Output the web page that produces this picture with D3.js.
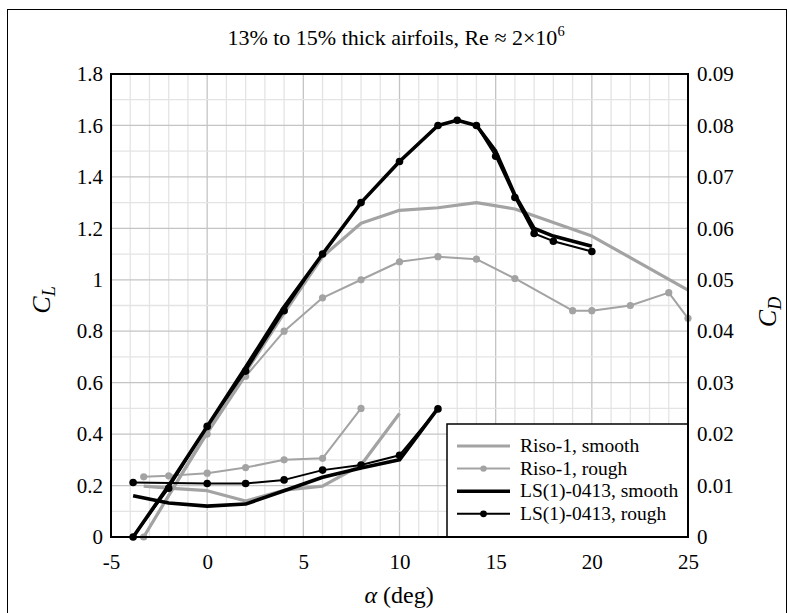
<!DOCTYPE html>
<html>
<head>
<meta charset="utf-8">
<script src="https://cdn.jsdelivr.net/npm/d3@7"></script>
<style>
  html, body { margin: 0; padding: 0; background: #fff; }
  svg { display: block; }
  svg text { font-family: "Liberation Serif", "DejaVu Serif", serif; }
</style>
</head>
<body>
<svg id="chart" width="789" height="613"></svg>
<script>
// Angle-of-attack ticks and axis tick labels
const xTicks = [-5, 0, 5, 10, 15, 20, 25];
const clTicks = [0, 0.2, 0.4, 0.6, 0.8, 1, 1.2, 1.4, 1.6, 1.8];
const cdTicks = [0, 0.01, 0.02, 0.03, 0.04, 0.05, 0.06, 0.07, 0.08, 0.09];

// Riso-1, smooth
const risoSmoothAlphaCL = [-3.3, 0, 2, 4, 6, 8, 10, 12, 14, 16, 20, 25];
const risoSmoothCL      = [0, 0.41, 0.64, 0.87, 1.09, 1.22, 1.27, 1.28, 1.30, 1.275, 1.17, 0.96];
const risoSmoothAlphaCD = [-3.3, -2, 0, 2, 4, 6, 8, 10];
const risoSmoothCD      = [0.0099, 0.0095, 0.0090, 0.0070, 0.0091, 0.0099, 0.0140, 0.0240];

// Riso-1, rough
const risoRoughAlphaCL = [-3.3, 0, 2, 4, 6, 8, 10, 12, 14, 16, 19, 20, 22, 24, 25];
const risoRoughCL      = [0, 0.40, 0.625, 0.80, 0.93, 1.00, 1.07, 1.09, 1.08, 1.005, 0.88, 0.88, 0.90, 0.95, 0.85];
const risoRoughAlphaCD = [-3.3, -2, 0, 2, 4, 6, 8];
const risoRoughCD      = [0.0117, 0.0119, 0.0124, 0.0135, 0.0150, 0.0153, 0.0250];

// LS(1)-0413, smooth
const lsSmoothAlphaCL = [-3.85, -2, 0, 2, 4, 6, 8, 10, 12, 13, 14, 15, 16, 17, 18, 20];
const lsSmoothCL      = [0, 0.20, 0.43, 0.66, 0.895, 1.10, 1.30, 1.46, 1.60, 1.62, 1.60, 1.50, 1.33, 1.20, 1.17, 1.13];
const lsSmoothAlphaCD = [-3.85, -2, 0, 2, 4, 6, 8, 10, 12];
const lsSmoothCD      = [0.0080, 0.0066, 0.0060, 0.0064, 0.0090, 0.0116, 0.0134, 0.0150, 0.0250];

// LS(1)-0413, rough
const lsRoughAlphaCL = [-3.85, -2, 0, 2, 4, 6, 8, 10, 12, 13, 14, 15, 16, 17, 18, 20];
const lsRoughCL      = [0, 0.19, 0.43, 0.645, 0.88, 1.10, 1.30, 1.46, 1.60, 1.62, 1.60, 1.48, 1.32, 1.18, 1.15, 1.11];
const lsRoughAlphaCD = [-3.85, 0, 2, 4, 6, 8, 10, 12];
const lsRoughCD      = [0.0106, 0.0104, 0.0104, 0.0111, 0.0130, 0.0140, 0.0159, 0.0249];

const legendLabels = ["Riso-1, smooth", "Riso-1, rough", "LS(1)-0413, smooth", "LS(1)-0413, rough"];

const svg = d3.select("#chart");
const m = { left: 111, right: 688, top: 74, bottom: 537 };

const x = d3.scaleLinear().domain([-5, 25]).range([m.left, m.right]);
const yL = d3.scaleLinear().domain([0, 1.8]).range([m.bottom, m.top]);
const yR = d3.scaleLinear().domain([0, 0.09]).range([m.bottom, m.top]);

const GRAY = "#a3a3a3";
const SERIF = "Liberation Serif";

// outer frame
svg.append("rect")
  .attr("x", 7.5).attr("y", 9.5).attr("width", 779).attr("height", 640)
  .attr("fill", "none").attr("stroke", "#000").attr("stroke-width", 1);

// title
const title = svg.append("text")
  .attr("x", 396).attr("y", 45).attr("text-anchor", "middle")
  .attr("font-size", 22);
title.append("tspan").text("13% to 15% thick airfoils, Re \u2248 2\u00d710");
title.append("tspan").attr("font-size", 14.5).attr("dy", -9).text("6");

// grid
const grid = svg.append("g");
d3.range(-5, 26, 1).forEach(v => {
  grid.append("line")
    .attr("x1", x(v)).attr("x2", x(v)).attr("y1", m.top).attr("y2", m.bottom)
    .attr("stroke", v % 5 === 0 ? "#c4c4c4" : "#e4e4e4").attr("stroke-width", 1.3);
});
d3.range(0, 19, 1).forEach(i => {
  const v = i / 10;
  grid.append("line")
    .attr("x1", m.left).attr("x2", m.right).attr("y1", yL(v)).attr("y2", yL(v))
    .attr("stroke", i % 2 === 0 ? "#c4c4c4" : "#e4e4e4").attr("stroke-width", 1.3);
});

// axes (labels only, border drawn separately)
const axisFont = g => {
  g.attr("font-family", SERIF).attr("font-size", 21);
  g.selectAll("text").style("font-family", SERIF).style("font-size", "21px").attr("fill", "#000");
};
svg.append("g").attr("transform", `translate(0,${m.bottom})`)
  .call(d3.axisBottom(x).tickValues(xTicks).tickSize(0).tickPadding(17).tickFormat(d => String(d)))
  .call(g => g.select(".domain").remove()).call(axisFont);
svg.append("g").attr("transform", `translate(${m.left},0)`)
  .call(d3.axisLeft(yL).tickValues(clTicks).tickSize(0).tickPadding(8).tickFormat(d => d === 0 || d === 1 ? String(d) : d3.format(".1f")(d)))
  .call(g => g.select(".domain").remove()).call(axisFont);
svg.append("g").attr("transform", `translate(${m.right},0)`)
  .call(d3.axisRight(yR).tickValues(cdTicks).tickSize(0).tickPadding(9).tickFormat(d => d === 0 ? "0" : d3.format(".2f")(d)))
  .call(g => g.select(".domain").remove()).call(axisFont);

// axis titles
const xt = svg.append("text").attr("x", 399).attr("y", 603).attr("text-anchor", "middle").attr("font-size", 24);
xt.append("tspan").attr("font-style", "italic").text("\u03b1");
xt.append("tspan").text(" (deg)");

const clt = svg.append("text").attr("transform", "translate(50,300) rotate(-90)").attr("text-anchor", "middle").attr("font-size", 26);
clt.append("tspan").attr("font-style", "italic").text("C");
clt.append("tspan").attr("font-style", "italic").attr("font-size", 18).attr("dy", 5).text("L");

const cdt = svg.append("text").attr("transform", "translate(776,312) rotate(-90)").attr("text-anchor", "middle").attr("font-size", 26);
cdt.append("tspan").attr("font-style", "italic").text("C");
cdt.append("tspan").attr("font-style", "italic").attr("font-size", 18).attr("dy", 5).text("D");

// series
const plot = svg.append("g");
const zip = (a, b) => a.map((v, i) => [v, b[i]]);
const lineL = d3.line().x(d => x(d[0])).y(d => yL(d[1]));
const lineR = d3.line().x(d => x(d[0])).y(d => yR(d[1]));

function drawSeries(pts, lineGen, yScale, color, width, r) {
  plot.append("path").datum(pts).attr("d", lineGen)
    .attr("fill", "none").attr("stroke", color).attr("stroke-width", width)
    .attr("stroke-linejoin", "round");
  if (r > 0) {
    plot.append("g").selectAll("circle").data(pts).join("circle")
      .attr("cx", d => x(d[0])).attr("cy", d => yScale(d[1])).attr("r", r).attr("fill", color);
  }
}

drawSeries(zip(risoSmoothAlphaCL, risoSmoothCL), lineL, yL, GRAY, 3.2, 0);
drawSeries(zip(risoSmoothAlphaCD, risoSmoothCD), lineR, yR, GRAY, 3.2, 0);
drawSeries(zip(risoRoughAlphaCL, risoRoughCL), lineL, yL, GRAY, 2, 3.6);
drawSeries(zip(risoRoughAlphaCD, risoRoughCD), lineR, yR, GRAY, 2, 3.6);
drawSeries(zip(lsSmoothAlphaCL, lsSmoothCL), lineL, yL, "#000", 3.6, 0);
drawSeries(zip(lsSmoothAlphaCD, lsSmoothCD), lineR, yR, "#000", 3.6, 0);
drawSeries(zip(lsRoughAlphaCL, lsRoughCL), lineL, yL, "#000", 2, 3.8);
drawSeries(zip(lsRoughAlphaCD, lsRoughCD), lineR, yR, "#000", 2, 3.8);

// legend
const lg = svg.append("g");
lg.append("rect").attr("x", 447).attr("y", 424).attr("width", 241).attr("height", 113)
  .attr("fill", "#fff").attr("stroke", "#000").attr("stroke-width", 1.5);
const legendStyle = [
  { color: GRAY, w: 3.2, r: 0 },
  { color: GRAY, w: 2, r: 3.2 },
  { color: "#000", w: 3.6, r: 0 },
  { color: "#000", w: 2, r: 3.4 }
];
legendLabels.forEach((lab, i) => {
  const yy = 446 + i * 22.6;
  const s = legendStyle[i];
  lg.append("line").attr("x1", 457).attr("x2", 510).attr("y1", yy).attr("y2", yy)
    .attr("stroke", s.color).attr("stroke-width", s.w);
  if (s.r) lg.append("circle").attr("cx", 483.5).attr("cy", yy).attr("r", s.r).attr("fill", s.color);
  lg.append("text").attr("x", 520).attr("y", yy + 6).attr("font-size", 19.5).text(lab);
});

// plot border
svg.append("rect").attr("x", m.left).attr("y", m.top)
  .attr("width", m.right - m.left).attr("height", m.bottom - m.top)
  .attr("fill", "none").attr("stroke", "#000").attr("stroke-width", 2);
</script>
</body>
</html>
